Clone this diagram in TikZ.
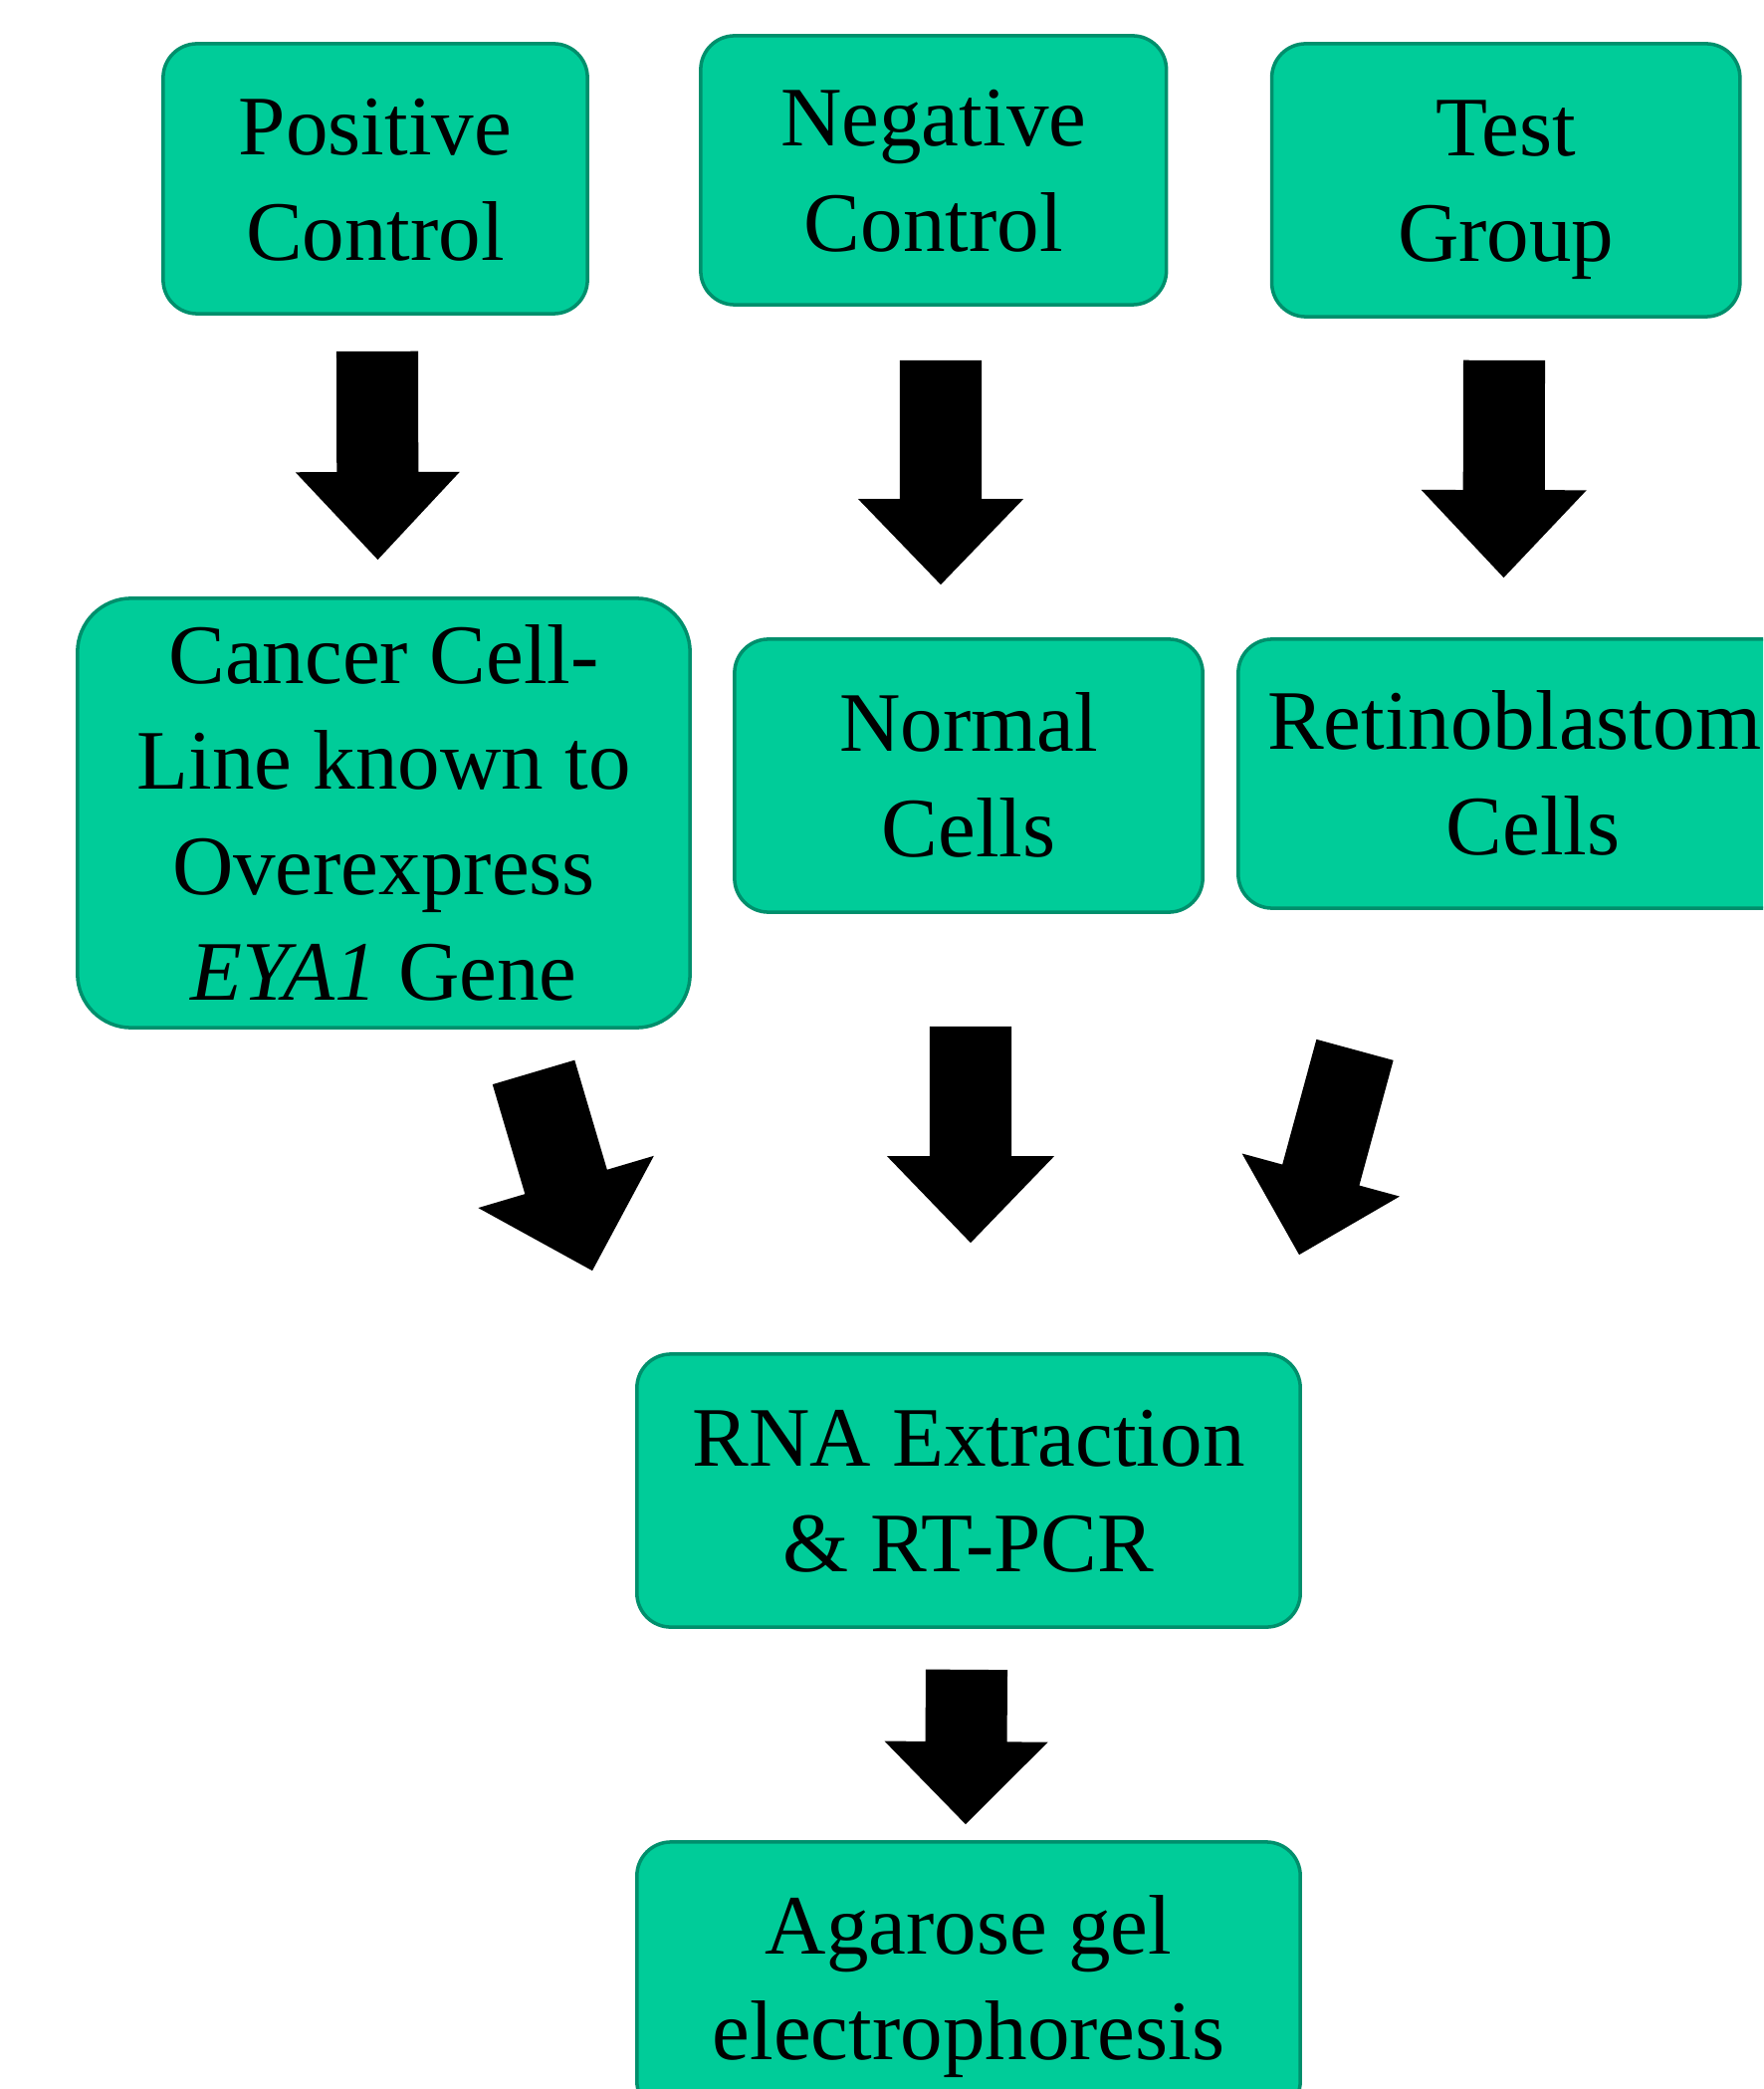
\documentclass[tikz,border=0pt]{standalone}
\usepackage{fontspec}
\setmainfont{Liberation Serif}
\usetikzlibrary{calc}
\definecolor{boxfill}{RGB}{0,204,153}
\definecolor{boxborder}{RGB}{0,143,108}
\newcommand{\lnstrut}{\rule[-0.216em]{0pt}{1.107em}}
\newcommand{\blockarrow}[5]{%
  \coordinate (bah) at ($(#2)!#5!(#1)$);
  \fill[arrowfill] ($(#1)!#3!90:(#2)$) -- ($(bah)!#3!90:(#2)$) -- ($(bah)!#4!90:(#2)$) -- (#2)
    -- ($(bah)!#4!-90:(#2)$) -- ($(bah)!#3!-90:(#2)$) -- ($(#1)!#3!-90:(#2)$) -- cycle;
}
\tikzset{
  stepbox/.style={draw=boxborder, fill=boxfill, line width=1pt, rounded corners=0.34cm,
    inner sep=0pt, align=center, font=\fontsize{24.18pt}{30.16pt}\selectfont},
  arrowfill/.style={fill=black},
}
\begin{document}
\begin{tikzpicture}[x=0.01cm,y=-0.01cm]
\useasboundingbox (0,0) rectangle (1771,2098);
\clip (0,0) rectangle (1771,2098);
\fill[white] (0,0) rectangle (1771,2098);
% top row
\node[stepbox, minimum width=4.26cm, minimum height=2.71cm] (pos) at (377,179.5)
  {\lnstrut Positive\\\lnstrut Control};
\node[stepbox, minimum width=4.675cm, minimum height=2.70cm] (neg) at (937.75,171)
  {\lnstrut Negative\\\lnstrut Control};
\node[stepbox, minimum width=4.70cm, minimum height=2.74cm] (test) at (1512.7,181)
  {\lnstrut Test\\\lnstrut Group};
% middle row
\node[stepbox, rounded corners=0.54cm, minimum width=6.15cm, minimum height=4.31cm] (canc) at (385.5,816.5)
  {\lnstrut Cancer Cell-\\\lnstrut Line known to\\\lnstrut Overexpress\\\lnstrut \textit{EYA1} Gene};
\node[stepbox, minimum width=4.70cm, minimum height=2.74cm] (norm) at (973,779)
  {\lnstrut Normal\\\lnstrut Cells};
\node[stepbox, minimum width=5.92cm, minimum height=2.70cm] (retino) at (1540,777)
  {\lnstrut Retinoblastoma\\\lnstrut Cells};
% bottom
\node[stepbox, minimum width=6.66cm, minimum height=2.74cm] (rna) at (973,1497)
  {\lnstrut RNA Extraction\\\lnstrut \& RT-PCR};
\node[stepbox, minimum width=6.66cm, minimum height=2.74cm] (agar) at (973,1987)
  {\lnstrut Agarose gel\\\lnstrut electrophoresis};
% arrow end points
\coordinate (a1s) at ($(pos.south)+(2,36)$);
\coordinate (a1e) at ($(canc.north)+(-6,-37)$);
\coordinate (a2s) at ($(neg.south)+(7.25,54)$);
\coordinate (a2e) at ($(norm.north)+(-28,-53)$);
\coordinate (a3s) at ($(test.south)+(-1.7,42)$);
\coordinate (a3e) at ($(retino.north)+(-29.5,-60)$);
\coordinate (a4s) at ($(canc.south)+(150.5,43)$);
\coordinate (a4e) at ($(rna.north)+(-378,-82)$);
\coordinate (a5s) at ($(norm.south)+(2,113)$);
\coordinate (a5e) at ($(rna.north)+(2,-110)$);
\coordinate (a6s) at ($(retino.south)+(-179,140.5)$);
\coordinate (a6e) at ($(rna.north)+(332,-98)$);
\coordinate (a7s) at ($(rna.south)+(-2,41)$);
\coordinate (a7e) at ($(agar.north)+(-3,-16)$);
% block arrows
\blockarrow{a1s}{a1e}{0.41cm}{0.825cm}{0.88cm}
\blockarrow{a2s}{a2e}{0.41cm}{0.83cm}{0.86cm}
\blockarrow{a3s}{a3e}{0.41cm}{0.83cm}{0.88cm}
\blockarrow{a4s}{a4e}{0.43cm}{0.92cm}{0.93cm}
\blockarrow{a5s}{a5e}{0.41cm}{0.84cm}{0.87cm}
\blockarrow{a6s}{a6e}{0.40cm}{0.82cm}{0.83cm}
\blockarrow{a7s}{a7e}{0.41cm}{0.82cm}{0.83cm}
\end{tikzpicture}
\end{document}
